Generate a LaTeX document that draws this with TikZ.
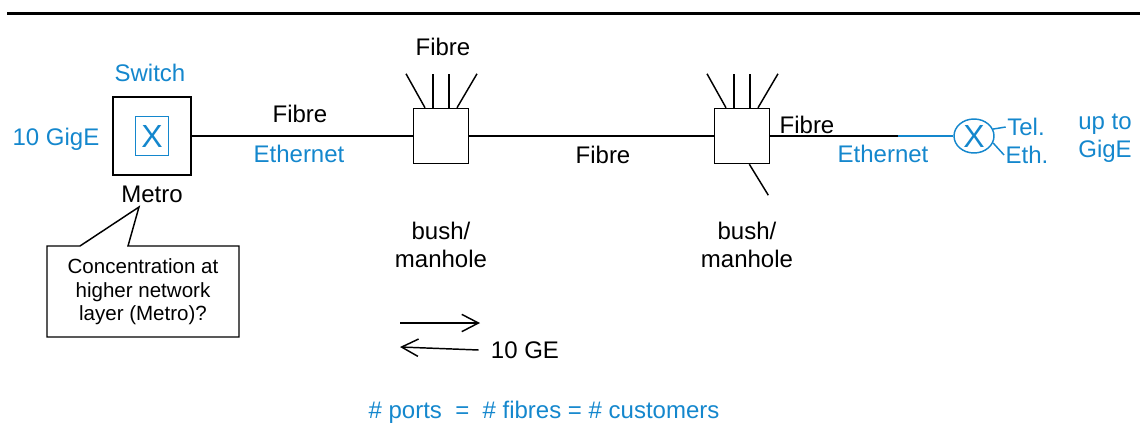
\documentclass[tikz,border=0pt]{standalone}
\usepackage{fontspec}
\setmainfont{Liberation Sans}
\usetikzlibrary{arrows.meta,shapes.geometric}
\definecolor{netblue}{RGB}{20,135,205}
\tikzset{
  lbl/.style={font=\fontsize{18}{21}\selectfont, inner sep=0pt, align=center},
  blbl/.style={lbl, text=netblue},
  cabinet/.style={draw, line width=1.1pt, minimum size=41.25pt, inner sep=0pt},
  fibre/.style={line width=1.1pt},
}
\begin{document}
\begin{tikzpicture}[x=0.75pt, y=-0.75pt]
        \useasboundingbox (0,0) rectangle (1140,425);
        \coordinate (ruleL) at (7,13);
        \coordinate (ruleR) at (1140,13);
        \draw[line width=2.25pt] (ruleL) -- (ruleR);
        % metro switch
        \node[draw, line width=1.1pt, minimum size=58.5pt, inner sep=0pt] (sw) at (152,136) {};
        \node[draw=netblue, line width=0.9pt, minimum width=24.75pt, minimum height=29.25pt, inner sep=0pt,
              text=netblue, font=\fontsize{24}{24}\selectfont] (swx) at (sw.center) {X};
        \node[blbl] (swlbl) at (150,73) {Switch};
        \node[blbl] (gige) at (56,139) {10 GigE};
        \node[lbl] (metro) at (152,194) {Metro};
        % cabinets
        \node[cabinet] (bh1) at (441,136) {};
        \node[cabinet] (bh2) at (742,136) {};
        \node[lbl] (bhlbl1) at (441,245) {bush/\\manhole};
        \node[lbl] (bhlbl2) at (747,245) {bush/\\manhole};
        \node[lbl] (topfib) at (443,47) {Fibre};
        \foreach \c in {bh1,bh2} {
          \draw[fibre] ([xshift=-12pt]\c.north) -- ++(-19,-34);
          \draw[fibre] ([xshift=-6pt]\c.north) -- ++(0,-34);
          \draw[fibre] ([xshift=6pt]\c.north) -- ++(0,-34);
          \draw[fibre] ([xshift=12pt]\c.north) -- ++(20,-34);
        }
        \draw[fibre] ([xshift=5.5pt]bh2.south) -- ++(19,31);
        % links
        \draw[fibre] (sw.east) -- (bh1.west);
        \node[lbl] (fib1) at (300,114) {Fibre};
        \node[blbl] (eth1) at (299,154) {Ethernet};
        \draw[fibre] (bh1.east) -- (bh2.west);
        \node[lbl] (fib2) at (603,155) {Fibre};
        \coordinate (split) at (898,136);
        \node[draw=netblue, ellipse, line width=1.1pt, minimum width=30pt, minimum height=25.5pt, inner sep=0pt,
              text=netblue, font=\fontsize{24}{24}\selectfont] (ont) at (974,136) {X};
        \draw[fibre] (bh2.east) -- (split);
        \draw[fibre, netblue] (split) -- (ont.west);
        \node[lbl] (fib3) at (807,125) {Fibre};
        \node[blbl] (eth2) at (883,154) {Ethernet};
        \node[blbl, inner sep=1pt] (tel) at (1026,127) {Tel.};
        \node[blbl, inner sep=1pt] (eth) at (1027,155) {Eth.};
        \draw[netblue, line width=1.1pt] (ont.20) -- (tel.west);
        \draw[netblue, line width=1.1pt] (ont.-20) -- (eth.west);
        \node[blbl] (upto) at (1105,138) {up to\\GigE};
        % callout
        \node[font=\fontsize{15.4}{17.6}\selectfont, inner sep=0pt, align=center] (note) at (143,292)
             {Concentration at\\higher network\\layer (Metro)?};
        \draw[line width=1.1pt] (47,246) -- (80,246) -- (139,207) -- (128,246) -- (239,246)
             -- (239,337) -- (47,337) -- cycle;
        % direction
        \node[lbl] (ge) at (525,350) {10 GE};
        \coordinate (fwdA) at (400,323);
        \coordinate (fwdB) at (480,323);
        \coordinate (bwdB) at (400,347);
        \draw[line width=1.1pt, -{Straight Barb[length=12.5pt,width=13pt,line width=1.1pt]}] (fwdA) -- (fwdB);
        \draw[line width=1.1pt, -{Straight Barb[length=12.5pt,width=13pt,line width=1.1pt]}] ([xshift=-9pt]ge.west) -- (bwdB);
        \node[blbl] (ports) at (544,412) {\# ports \ = \ \# fibres = \# customers};
\end{tikzpicture}
\end{document}
